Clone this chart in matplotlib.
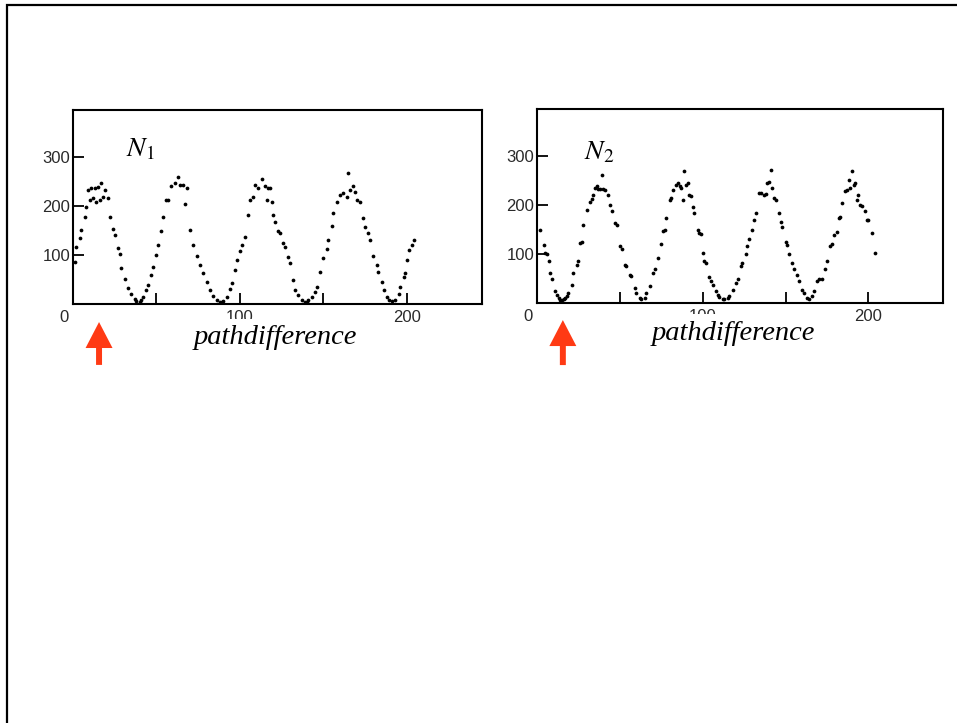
import matplotlib
matplotlib.use("Agg")
import matplotlib.pyplot as plt
from matplotlib.patches import Rectangle
from matplotlib.transforms import ScaledTranslation

# panel 1 (N1)
x1 = [1, 2, 4, 5, 7, 8, 9, 10, 11, 12, 13, 14, 15, 16, 17, 18, 19, 21, 22, 24,
      25, 27, 28, 29, 31, 33, 35, 37, 38, 40, 41, 42, 44, 45, 47, 48, 50, 51, 53, 54,
      56, 57, 59, 61, 63, 64, 66, 67, 68, 70, 72, 74, 76, 78, 80, 82, 84, 86, 88, 89,
      90, 92, 94, 95, 97, 98, 100, 101, 103, 105, 106, 108, 109, 111, 113, 115, 116, 117, 118, 119,
      120, 121, 123, 124, 126, 127, 129, 130, 132, 133, 135, 137, 139, 140, 141, 143, 145, 146, 148, 150,
      152, 153, 155, 156, 158, 160, 162, 164, 165, 166, 168, 169, 170, 172, 174, 175, 177, 178, 180, 182,
      183, 185, 186, 188, 189, 191, 193, 195, 196, 198, 199, 200, 201, 203, 204]
y1 = [86, 117, 134, 151, 178, 199, 233, 212, 236, 216, 236, 209, 238, 212, 246, 219, 233, 216, 178, 154,
      140, 114, 103, 73, 52, 32, 20, 10, 7, 5, 8, 15, 28, 39, 60, 76, 100, 120, 150, 178,
      212, 212, 240, 246, 260, 243, 243, 205, 236, 151, 120, 97, 80, 63, 45, 29, 17, 8, 4, 5,
      7, 15, 30, 42, 70, 90, 108, 120, 137, 182, 212, 219, 243, 236, 256, 240, 212, 236, 236, 209,
      182, 168, 150, 144, 125, 117, 95, 83, 50, 29, 18, 8, 4, 5, 8, 15, 25, 35, 65, 93,
      112, 131, 160, 185, 209, 222, 226, 219, 267, 233, 240, 229, 212, 209, 175, 158, 145, 131, 97, 80,
      66, 45, 29, 15, 8, 6, 8, 20, 35, 55, 63, 90, 110, 120, 131]

# panel 2 (N2)
x2 = [2, 4, 5, 6, 7, 8, 9, 11, 12, 13, 14, 15, 16, 17, 18, 19, 21, 22, 24, 25,
      26, 27, 28, 30, 32, 33, 34, 35, 36, 37, 38, 39, 40, 41, 43, 44, 45, 47, 48, 50,
      51, 53, 54, 56, 57, 59, 60, 62, 63, 65, 66, 68, 70, 71, 73, 75, 76, 77, 78, 80,
      81, 82, 84, 85, 86, 87, 88, 89, 90, 91, 92, 93, 94, 95, 97, 98, 99, 100, 101, 102,
      104, 105, 106, 108, 109, 110, 112, 113, 115, 116, 118, 120, 121, 123, 124, 126, 127, 128, 130, 131,
      132, 134, 135, 137, 138, 139, 140, 141, 142, 143, 144, 146, 147, 148, 150, 151, 152, 154, 155, 157,
      158, 160, 161, 163, 164, 166, 167, 169, 170, 172, 174, 175, 177, 178, 179, 181, 182, 183, 184, 186,
      187, 188, 189, 190, 191, 192, 193, 194, 195, 196, 198, 199, 200, 202, 204]
y2 = [150, 119, 102, 100, 85, 61, 48, 24, 16, 10, 7, 7, 8, 10, 14, 20, 37, 61, 78, 85,
      122, 125, 160, 190, 207, 212, 221, 235, 238, 232, 232, 262, 233, 231, 221, 200, 187, 163, 160, 116,
      110, 78, 75, 58, 55, 31, 20, 10, 8, 10, 20, 34, 61, 70, 92, 120, 146, 148, 173, 211,
      215, 231, 240, 245, 238, 235, 210, 269, 240, 245, 220, 218, 195, 184, 150, 143, 140, 103, 85, 82,
      54, 45, 37, 25, 17, 12, 8, 8, 10, 15, 27, 40, 48, 75, 82, 100, 116, 130, 150, 170,
      184, 224, 225, 221, 222, 245, 248, 272, 235, 214, 210, 184, 165, 156, 125, 119, 100, 82, 70, 58,
      45, 27, 20, 10, 8, 14, 25, 44, 48, 48, 70, 85, 116, 120, 139, 145, 173, 175, 204, 228,
      230, 252, 235, 269, 240, 245, 210, 221, 200, 197, 187, 170, 170, 143, 102]

xticks = [0, 50, 100, 150, 200]
xticklabels = ['0', '', '100', '', '200']
yticks = [100, 200, 300]
names = [r'$N_1$', r'$N_2$']
xlabel = 'pathdifference'
arrow_x = 15.6

plt.rcParams['mathtext.fontset'] = 'stix'

W, H = 957, 723
fig = plt.figure(figsize=(W / 100, H / 100), dpi=100)


def px_axes(l, t, r, b):
    return fig.add_axes([l / W, 1 - b / H, (r - l) / W, (b - t) / H])


# slide frame
fig.patches.append(Rectangle((7 / W, -0.1), 1.2, 1.1 - 5 / H, transform=fig.transFigure,
                             fill=False, ec='black', lw=1.6))

axes = [px_axes(73, 110, 482, 304), px_axes(537, 109, 943, 303)]
data = [(x1, y1), (x2, y2)]
name_pos = [(0.13, 0.80), (0.116, 0.78)]
label_pos = [(0.494, -0.175), (0.483, -0.157)]
arrow_y = [(-0.093, -0.314), (-0.088, -0.32)]

for i, ax in enumerate(axes):
    x, y = data[i]
    ax.plot(x, y, 'o', color='black', markersize=2.7, markeredgewidth=0)
    ax.set_xlim(0, 245)
    ax.set_ylim(0, 396)
    ax.set_xticks(xticks)
    ax.set_xticklabels(xticklabels)
    ax.set_yticks(yticks)
    ax.tick_params(direction='in', length=8, width=1.3, pad=4, labelsize=12,
                   labelcolor='#2a2a2a')
    ax.tick_params(axis='y', pad=2)
    for lab in ax.get_xticklabels() + ax.get_yticklabels():
        lab.set_family('Liberation Sans')
    for s in ax.spines.values():
        s.set_linewidth(1.5)
    # the "0" on the scan sits a little left of the axis
    lab0 = ax.xaxis.get_major_ticks()[0].label1
    lab0.set_transform(lab0.get_transform() + ScaledTranslation(-9 / 100, 0, fig.dpi_scale_trans))

    ax.text(name_pos[i][0], name_pos[i][1], names[i], transform=ax.transAxes,
            fontsize=20, ha='left', va='center')
    ax.text(label_pos[i][0], label_pos[i][1], xlabel, transform=ax.transAxes,
            ha='center', va='center', fontsize=20.5, fontstyle='italic',
            family='Liberation Serif', zorder=5, clip_on=False,
            bbox=dict(fc='white', ec='none', pad=5))
    ax.annotate('', xy=(arrow_x, arrow_y[i][0]), xycoords=('data', 'axes fraction'),
                xytext=(arrow_x, arrow_y[i][1]), textcoords=('data', 'axes fraction'),
                annotation_clip=False,
                arrowprops=dict(arrowstyle='simple,head_length=1.87,head_width=1.94,tail_width=0.43',
                                mutation_scale=10, fc='#ff3a14', ec='none',
                                shrinkA=0, shrinkB=0))

fig.savefig('out.png', dpi=100)
